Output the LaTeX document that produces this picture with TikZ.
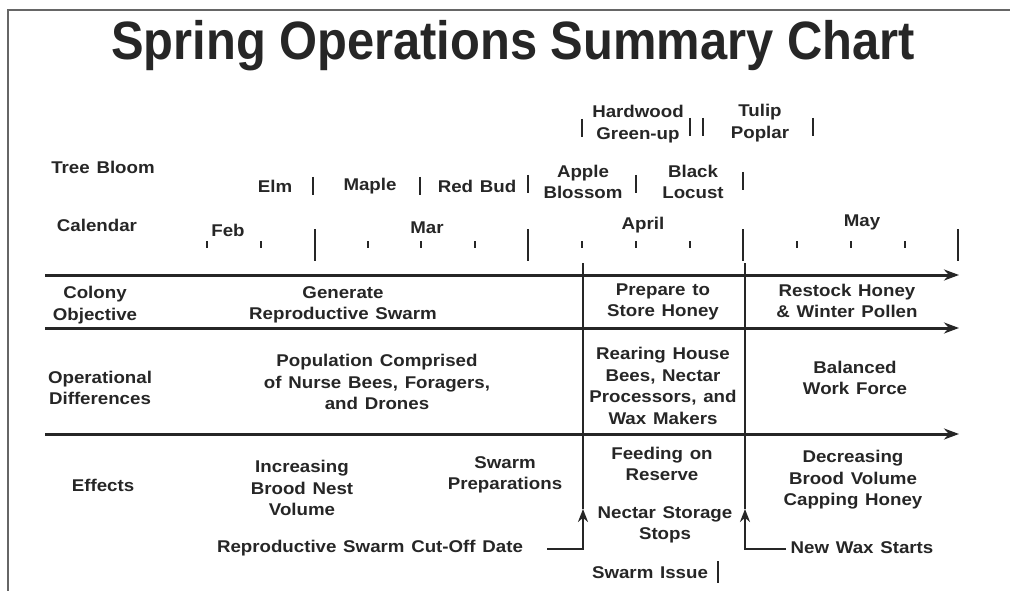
\documentclass[tikz,border=0pt]{standalone}
\usepackage{fontspec}
\setmainfont{Liberation Sans}[FakeStretch=1.1, WordSpace=1.3]
\newfontfamily\titlefont{Liberation Sans}[FakeStretch=0.905]
\usetikzlibrary{arrows.meta,positioning}
\definecolor{ink}{HTML}{262626}
\tikzset{
  lbl/.style={font=\bfseries\fontsize{17}{21.5}\selectfont, align=center, text=ink, inner sep=0pt},
  rowarrow/.style={-{Stealth[length=15pt,width=11pt]}, line width=3pt, draw=ink},
  divider/.style={line width=2.3pt, draw=ink},
  uparrow/.style={-{Stealth[length=13pt,width=10pt]}, line width=2.3pt, draw=ink},
  bloombar/.style={line width=2.8pt, draw=ink},
  wk/.style={line width=2pt, draw=ink},
  mo/.style={line width=2.8pt, draw=ink}
}
\begin{document}
\begin{tikzpicture}[x=1pt, y=-1pt]
  \useasboundingbox[fill=white] (0,0) rectangle (1010,591);
  % frame
  \draw[gray!80!black, line width=1.2pt] (8,591) -- (8,10) -- (1010,10);
  \node[font=\titlefont\bfseries\fontsize{54}{60}\selectfont, text=ink, inner sep=0pt] (title) at (513,46) {Spring Operations Summary Chart};

  % row captions
  \node[lbl] (treebloom) at (103,167) {Tree Bloom};
  \node[lbl] (calendar) at (97,225) {Calendar};
  \node[lbl] (colony) at (95,305) {Colony\\Objective};
  \node[lbl] (operational) at (100,388) {Operational\\Differences};
  \node[lbl] (effects) at (103,485) {Effects};

  % tree bloom
  \node[lbl] (elm) at (275,186) {Elm};
  \node[lbl] (maple) at (370,186) {Maple};
  \node[lbl] (redbud) at (477,186) {Red Bud};
  \node[lbl] (apple) at (583,182) {Apple\\Blossom};
  \node[lbl] (locust) at (693,182) {Black\\Locust};
  \node[lbl] (hardwood) at (638,124) {Hardwood\\Green-up};
  \node[lbl] (tulip) at (760,123) {Tulip\\Poplar};
  \foreach \x/\y in {313/186, 420/186, 528/184, 636/184, 743/181, 582/128, 690/127, 703/127, 813/127}
    \draw[bloombar] (\x,\y-9) -- (\x,\y+9);

  % calendar
  \node[lbl] (feb) at (228,230) {Feb};
  \node[lbl] (mar) at (427,228) {Mar};
  \node[lbl] (april) at (643,225) {April};
  \node[lbl] (may) at (862,222) {May};
  \foreach \x in {207,261,368,421,475,582,636,690,797,851,905}
    \draw[wk] (\x,241) -- (\x,248);
  \foreach \x in {315,528,743,958}
    \draw[mo] (\x,229) -- (\x,261);

  % time arrows
  \coordinate (a1) at (45,275);  \coordinate (b1) at (959,275);
  \coordinate (a2) at (45,328);  \coordinate (b2) at (959,328);
  \coordinate (a3) at (45,434);  \coordinate (b3) at (959,434);
  \draw[rowarrow] (a1) -- (b1);
  \draw[rowarrow] (a2) -- (b2);
  \draw[rowarrow] (a3) -- (b3);

  % dividers
  \coordinate (topA) at (583,263); \coordinate (tipA) at (583,509);
  \coordinate (topB) at (745,263); \coordinate (tipB) at (745,509);
  \draw[divider] (topA) -- (tipA);
  \draw[divider] (topB) -- (tipB);

  % colony objective
  \node[lbl] (generate) at (343,305) {Generate\\Reproductive Swarm};
  \node[lbl] (prepare) at (663,302) {Prepare to\\Store Honey};
  \node[lbl] (restock) at (847,301) {Restock Honey\\\& Winter Pollen};

  % operational differences
  \node[lbl] (population) at (377,382) {Population Comprised\\of Nurse Bees, Foragers,\\and Drones};
  \node[lbl] (rearing) at (663,386) {Rearing House\\Bees, Nectar\\Processors, and\\Wax Makers};
  \node[lbl] (balanced) at (855,378) {Balanced\\Work Force};

  % effects
  \node[lbl] (increasing) at (302,488) {Increasing\\Brood Nest\\Volume};
  \node[lbl] (swarmprep) at (505,475) {Swarm\\Preparations};
  \node[lbl] (feeding) at (662,464) {Feeding on\\Reserve};
  \node[lbl] (nectar) at (665,525) {Nectar Storage\\Stops};
  \node[lbl] (decreasing) at (853,480) {Decreasing\\Brood Volume\\Capping Honey};
  \node[lbl] (cutoff) at (370,548) {Reproductive Swarm Cut-Off Date};
  \node[lbl] (newwax) at (862,548) {New Wax Starts};
  \node[lbl] (swarmissue) at (650,573) {Swarm Issue};
  \draw[ink, line width=1.2pt] (718,561) -- (718,583);

  \coordinate (cutA) at (547,549);
  \coordinate (waxB) at (786,549);
  \draw[uparrow] (cutA) -| (tipA);
  \draw[uparrow] (waxB) -| (tipB);
\end{tikzpicture}
\end{document}
